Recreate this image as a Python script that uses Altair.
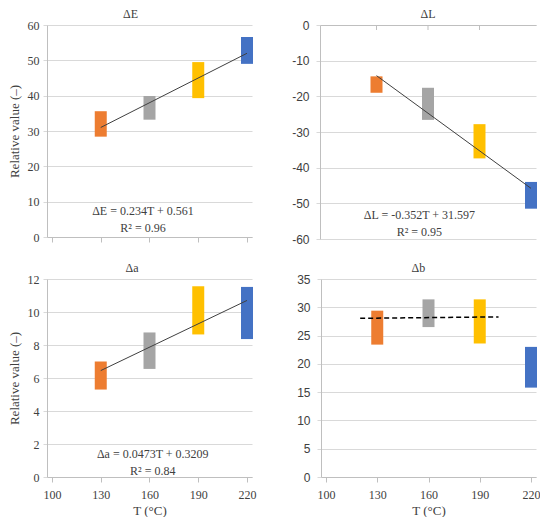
import altair as alt
import pandas as pd

# ---------------- data ----------------
temps = [130, 160, 190, 220]
bar_keys = ["130", "160", "190", "220"]
bar_colors = ["#ED7D31", "#A5A5A5", "#FFC000", "#4472C4"]
x_ticks = [100, 130, 160, 190, 220]

dE_low = [28.4, 33.2, 39.3, 49.0]
dE_high = [35.6, 39.9, 49.5, 56.6]
dL_low = [-19.0, -26.6, -37.4, -51.5]
dL_high = [-14.4, -17.6, -27.8, -44.0]
da_low = [5.3, 6.55, 8.64, 8.36]
da_high = [7.0, 8.76, 11.56, 11.52]
db_low = [23.4, 26.5, 23.6, 15.8]
db_high = [29.4, 31.4, 31.4, 23.0]

trend_E_x = [130, 220]
trend_E_y = [31.0, 52.0]
trend_L_x = [130, 220]
trend_L_y = [-14.2, -45.8]
trend_a_x = [130, 220]
trend_a_y = [6.45, 10.7]
trend_b_x = [120, 201]
trend_b_y = [28.05, 28.3]

eq_E = ["ΔE = 0.234T + 0.561", "R² = 0.96"]
eq_E_x = [156, 156]
eq_E_y = [7.4, 2.5]
eq_L = ["ΔL = -0.352T + 31.597", "R² = 0.95"]
eq_L_x = [155, 155]
eq_L_y = [-53.4, -58.1]
eq_a = ["Δa = 0.0473T + 0.3209", "R² = 0.84"]
eq_a_x = [162, 162]
eq_a_y = [1.4, 0.35]

# ---------------- style ----------------
SERIF = "Liberation Serif"
SANS = "Liberation Sans"
TXT = "#404040"
GRID = "#d9d9d9"
AXIS = "#bfbfbf"


def panel(title, low, high, tx, ty, dashed, eq, eqx, eqy, ydom, ystep,
          left, bottom, width, height, title_frame, top_axis=False):
    bars = pd.DataFrame({"T": temps, "low": low, "high": high, "c": bar_keys})
    yvals = list(range(ydom[0], ydom[1] + 1, ystep))

    if bottom:
        xaxis = alt.Axis(values=x_ticks, grid=False, tickSize=5, tickColor=AXIS,
                         domainColor=AXIS, labelFont=SERIF, labelFontSize=12,
                         labelColor=TXT, labelPadding=7, format="d",
                         title="T (°C)", titleFont=SERIF, titleFontSize=13,
                         titleFontWeight="normal", titleColor=TXT, titlePadding=4)
    elif top_axis:
        xaxis = alt.Axis(orient="top", values=x_ticks, grid=False, ticks=False,
                         labels=False, domainColor=AXIS, title=None)
    else:
        xaxis = alt.Axis(values=x_ticks, grid=False, tickSize=5, tickColor=AXIS,
                         domainColor=AXIS, labels=False, title=None)

    if left:
        yaxis = alt.Axis(values=yvals, grid=True, gridColor=GRID, domainColor=AXIS,
                         tickColor=GRID, tickSize=4, labelFont=SERIF, labelFontSize=12,
                         labelColor=TXT, labelPadding=4,
                         title="Relative value (–)", titleFont=SERIF, titleFontSize=13,
                         titleFontWeight="normal", titleColor=TXT, titlePadding=6)
    else:
        yaxis = alt.Axis(values=yvals, grid=True, gridColor=GRID, domainColor=AXIS,
                         tickColor=GRID, tickSize=4, labelFont=SANS, labelFontSize=12,
                         labelColor=TXT, labelPadding=7, labelExpr="'' + datum.value",
                         title=None)

    xs = alt.Scale(domain=[100, 220], nice=False, zero=False)
    ys = alt.Scale(domain=ydom, nice=False, zero=False)

    def X():
        return alt.X("T:Q", scale=xs, axis=xaxis)

    def Y():
        return alt.Y("low:Q", scale=ys, axis=yaxis)

    bar = alt.Chart(bars).mark_bar(size=12).encode(
        x=X(), y=Y(), y2="high:Q",
        color=alt.Color("c:N", scale=alt.Scale(domain=bar_keys, range=bar_colors), legend=None),
    )
    layers = [bar]

    line_df = pd.DataFrame({"T": tx, "low": ty})
    if dashed:
        lm = alt.Chart(line_df).mark_line(color="#000000", strokeWidth=1.5, strokeDash=[5, 3])
    else:
        lm = alt.Chart(line_df).mark_line(color="#404040", strokeWidth=1)
    layers.append(lm.encode(x=X(), y=Y()))

    if eq:
        t_df = pd.DataFrame({"T": eqx, "low": eqy, "label": eq})
        layers.append(
            alt.Chart(t_df).mark_text(font=SERIF, fontSize=12, color=TXT).encode(
                x=X(), y=Y(), text="label:N"
            )
        )

    if top_axis:
        tk = pd.DataFrame({"T": x_ticks[1:4]})
        layers.append(
            alt.Chart(tk).mark_rule(color=AXIS).encode(
                x=X(), y=alt.value(0), y2=alt.value(5)
            )
        )

    return alt.layer(*layers).properties(
        width=width, height=height,
        title=alt.TitleParams(title, font=SERIF, fontSize=12, fontWeight="normal",
                              color=TXT, offset=-2, anchor="middle", frame=title_frame),
    )


pE = panel("ΔE", dE_low, dE_high, trend_E_x, trend_E_y, False, eq_E, eq_E_x, eq_E_y,
           [0, 60], 10, True, False, 205, 212, "bounds")
pL = panel("ΔL", dL_low, dL_high, trend_L_x, trend_L_y, False, eq_L, eq_L_x, eq_L_y,
           [-60, 0], 10, False, False, 216, 214, "group", top_axis=True)
pa = panel("Δa", da_low, da_high, trend_a_x, trend_a_y, False, eq_a, eq_a_x, eq_a_y,
           [0, 12], 2, True, True, 205, 198, "bounds")
pb = panel("Δb", db_low, db_high, trend_b_x, trend_b_y, True, None, None, None,
           [0, 35], 5, False, True, 215, 198, "bounds")

chart = alt.vconcat(
    alt.hconcat(pE, pL, spacing=38),
    alt.hconcat(pa, pb, spacing=40),
    spacing=17,
).properties(padding=0, background="white").configure_view(stroke=None)

chart.save("out.html", embed_options={"renderer": "svg", "actions": False})
